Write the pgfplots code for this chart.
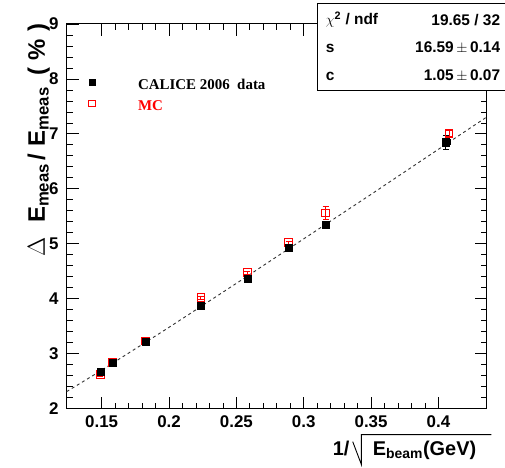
\documentclass[border=0pt]{standalone}
\usepackage{pgfplots}
\pgfplotsset{compat=1.18}
\usepackage{fontspec}
\setmainfont{Liberation Sans}
\newfontfamily\timesfont{Liberation Serif}
\begin{document}
\begin{tikzpicture}
\path (-66.7bp,-59bp) rectangle (438.3bp,409bp);
\begin{axis}[
  at={(0,0)}, anchor=south west,
  scale only axis, width=420.6bp, height=385bp,
  xmin=0.124, xmax=0.436, ymin=2, ymax=9,
  xtick={0.15,0.2,0.25,0.3,0.35,0.4},
  xticklabels={0.15,0.2,0.25,0.3,0.35,0.4},
  ytick={2,3,4,5,6,7,8,9},
  minor x tick num=4, minor y tick num=4,
  tick align=inside, tick pos=both,
  major tick length=12bp, minor tick length=6bp,
  axis line style={line width=1bp},
  every tick/.style={black, line width=0.8bp},
  /pgf/number format/assume math mode=true,
  ticklabel style={font=\fontsize{17}{17}\selectfont\bfseries},
  yticklabel style={inner sep=0pt, anchor=east, xshift=-8bp},
  xticklabel style={inner sep=0pt, anchor=north, yshift=-7bp},
  reverse legend,
  legend style={at={(0.0483,0.862)}, anchor=north west, draw=none, fill=none,
    inner sep=0pt, row sep=6bp,
    font=\timesfont\fontsize{15}{15}\selectfont\bfseries,
    nodes={inner sep=0pt, text height=9bp, text depth=3bp}},
  legend cell align=left,
  clip=true,
]
% fit curve
\addplot[forget plot, black!80, line width=0.9bp, dash pattern=on 3bp off 3bp] coordinates {
  (0.124,2.31) (0.15,2.70) (0.175,3.09) (0.2,3.48) (0.25,4.28) (0.3,5.09) (0.35,5.90) (0.4,6.72) (0.436,7.31)
};
% MC
\addplot[only marks, mark=square, mark size=3.8bp, red, line width=0.9bp,
  legend image code/.code={\path[draw=none,fill=none] (0bp,-3bp) (51bp,9bp);
     \draw[red, line width=0.9bp, fill=none] (1.75bp,0.75bp) rectangle (8.25bp,7.25bp);},
  error bars/.cd, y dir=both, y explicit,
  error bar style={red, line width=0.8bp},
  error mark options={rotate=90, mark size=3bp, red}]
  coordinates {
  (0.1491,2.62) +- (0,0.03)
  (0.1581,2.84) +- (0,0.03)
  (0.1826,3.23) +- (0,0.03)
  (0.2236,4.02) +- (0,0.03)
  (0.2582,4.48) +- (0,0.03)
  (0.2887,5.02) +- (0,0.03)
  (0.3162,5.56) +- (0,0.12)
  (0.4078,7.01) +- (0,0.06)
};
\addlegendentry{\textcolor{red}{MC}}
% data
\addplot[only marks, mark=square*, mark size=3.6bp, black,
  legend image code/.code={\path[draw=none,fill=none] (0bp,-3bp) (51bp,9bp);
     \fill[black] (2bp,1bp) rectangle (8bp,7bp);},
  error bars/.cd, y dir=both, y explicit, x dir=both, x explicit,
  error bar style={line width=0.8bp}, error mark options={rotate=90, mark size=3bp, black}]
  coordinates {
  (0.1491,2.68) +- (0.0005,0.05)
  (0.1581,2.84) +- (0.0005,0.04)
  (0.1826,3.22) +- (0.0005,0.04)
  (0.2236,3.87) +- (0.0005,0.04)
  (0.2582,4.36) +- (0.0005,0.04)
  (0.2887,4.93) +- (0.0005,0.04)
  (0.3162,5.35) +- (0.0005,0.04)
  (0.4055,6.85) +- (0.003,0.12)
};
\addlegendentry{CALICE 2006\ \ data}
\end{axis}
% stat box
\fill[white] (251.3bp,319bp) rectangle (438.3bp,406bp);
\draw[line width=0.8bp] (438.3bp,319bp) -- (251.3bp,319bp) -- (251.3bp,406bp) -- (438.3bp,406bp);
\begin{scope}[every node/.style={inner sep=0pt, font=\fontsize{15.5}{15.5}\selectfont\bfseries}]
\node[anchor=west] at (259.3bp,389bp) {$\chi$\textsuperscript{2} / ndf};
\node[anchor=east] at (434bp,389bp) {19.65 / 32};
\node[anchor=west] at (259.3bp,361bp) {s};
\node[anchor=east] at (434bp,361bp) {16.59\,$\pm$\,0.14};
\node[anchor=west] at (259.3bp,333bp) {c};
\node[anchor=east] at (434bp,333bp) {1.05\,$\pm$\,0.07};
\end{scope}
% y axis title
\node[rotate=90, anchor=base east, inner sep=0pt, font=\fontsize{24}{24}\selectfont\bfseries]
  at (-21.7bp,385.5bp) {$\Delta$\hspace{0.6em}E\textsubscript{meas}\hspace{0.15em}/\hspace{0.3em}E\textsubscript{meas}\hspace{0.5em}(\hspace{0.3em}\%\hspace{0.3em})};
% x axis title with a drawn radical
\node[anchor=base east, inner sep=0pt, font=\fontsize{20}{20}\selectfont\bfseries]
  at (283.3bp,-47bp) {1/};
\node[anchor=base west, inner sep=0pt, font=\fontsize{20}{20}\selectfont\bfseries]
  at (306.3bp,-47bp) {E\textsubscript{beam}(GeV)};
\draw[line width=0.9bp, line join=miter] (286.3bp,-33bp) -- (295bp,-56bp) -- (295bp,-26bp) -- (425bp,-26bp);
\end{tikzpicture}
\end{document}
